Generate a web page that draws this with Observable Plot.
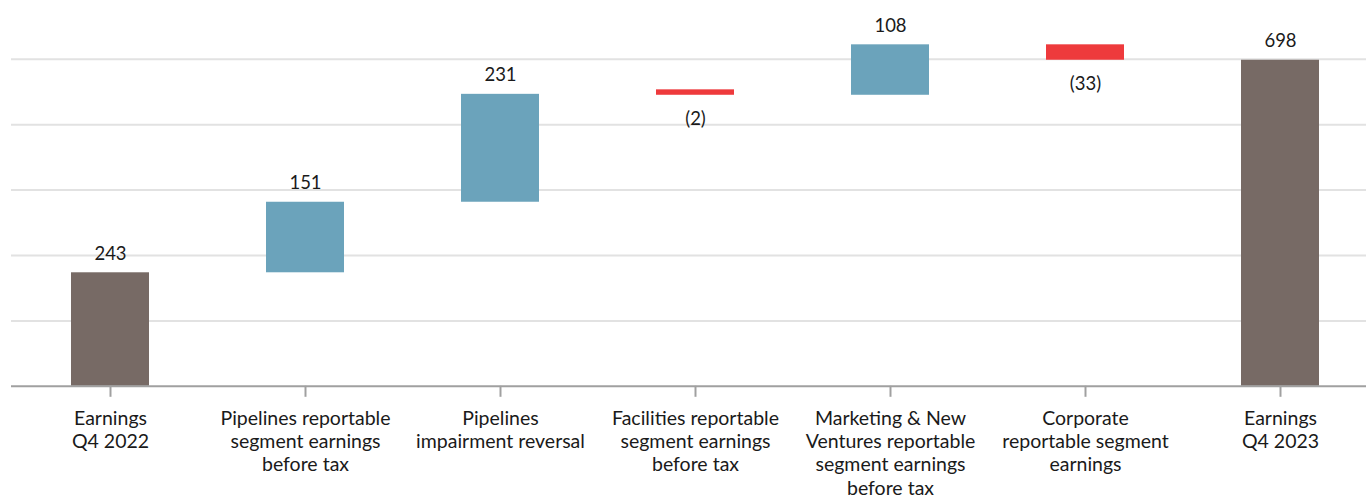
<!DOCTYPE html>
<html>
<head>
<meta charset="utf-8">
<script src="https://cdn.jsdelivr.net/npm/d3@7"></script>
<script src="https://cdn.jsdelivr.net/npm/@observablehq/plot@0.6"></script>
<style>
  html, body { margin: 0; padding: 0; background: #fff; }
  #chart svg { display: block; }
</style>
</head>
<body>
<div id="chart"></div>
<script>
// ---- data ----
const categories = [
  "Earnings\nQ4 2022",
  "Pipelines reportable\nsegment earnings\nbefore tax",
  "Pipelines\nimpairment reversal",
  "Facilities reportable\nsegment earnings\nbefore tax",
  "Marketing & New\nVentures reportable\nsegment earnings\nbefore tax",
  "Corporate\nreportable segment\nearnings",
  "Earnings\nQ4 2023"
];
const values = [243, 151, 231, -2, 108, -33, 698];
const kinds = ["total", "delta", "delta", "delta", "delta", "delta", "total"];
const yTicks = [0, 140, 280, 420, 560, 700];

// ---- build waterfall table ----
let running = 0;
const rows = categories.map((c, i) => {
  const v = values[i];
  let start, end;
  if (kinds[i] === "total") { start = 0; end = v; running = v; }
  else { start = running; end = running + v; running = end; }
  const kind = kinds[i] === "total" ? "total" : (v >= 0 ? "up" : "down");
  const label = v < 0 ? `(${Math.abs(v)})` : `${v}`;
  return { cat: c, start, end, kind, label, top: Math.max(start, end), bottom: Math.min(start, end), small: Math.abs(v) < 5 };
});

const colors = { total: "#776a65", up: "#6ba3bb", down: "#ee3a3c" };
const font = "Lato, 'Open Sans', sans-serif";
const axisFs = 19.5;
const valueFs = 18.5;

const chart = Plot.plot({
  width: 1366,
  height: 501,
  marginLeft: 11,
  marginRight: 0,
  marginTop: 58.8,
  marginBottom: 115.2,
  style: { fontFamily: font, fontSize: axisFs + "px", color: "#1a1a1a", background: "#fff" },
  x: { domain: categories, range: [11.1, 1379], paddingInner: 0.6, paddingOuter: 0.3 },
  y: { type: "linear", domain: [0, 700], axis: null },
  marks: [
    Plot.ruleY(yTicks.filter(d => d > 0), { stroke: "#e2e2e2", strokeWidth: 2 }),
    Plot.rectY(rows.filter(d => !d.small), { x: "cat", y1: "start", y2: "end", fill: d => colors[d.kind] }),
    Plot.rectY(rows.filter(d => d.small), { x: "cat", y1: "start", y2: "end", fill: d => colors[d.kind], insetTop: -4.5 }),
    Plot.ruleY([0], { stroke: "#a0a0a0", strokeWidth: 2 }),
    Plot.axisX({
      tickSize: 11,
      stroke: "#a0a0a0",
      strokeWidth: 2,
      tickPadding: 11,
      fontSize: axisFs,
      lineHeight: 23.3 / axisFs,
      textAnchor: "middle",
      fill: "#1a1a1a",
      label: null
    }),
    Plot.text(rows.filter(d => d.kind !== "down"), { x: "cat", y: "top", text: "label", dy: -19, fontSize: valueFs, fill: "#1a1a1a" }),
    Plot.text(rows.filter(d => d.kind === "down"), { x: "cat", y: "bottom", text: "label", dy: 24, fontSize: valueFs, fill: "#1a1a1a" })
  ]
});
document.getElementById("chart").appendChild(chart);
</script>
</body>
</html>
